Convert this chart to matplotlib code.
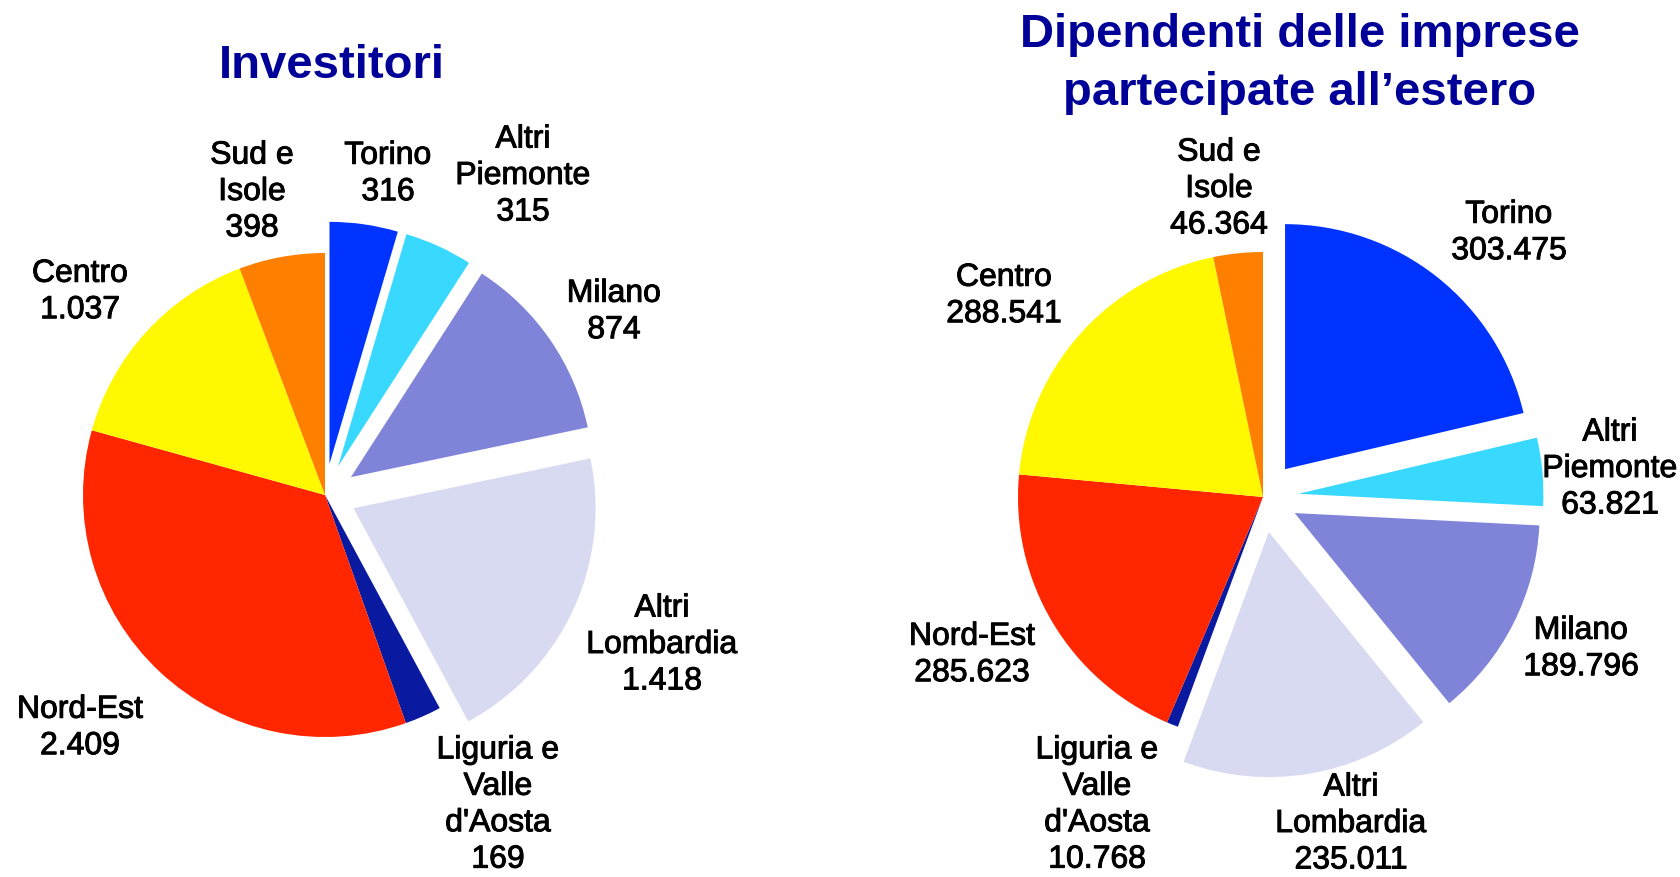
import matplotlib
matplotlib.use('Agg')
import matplotlib.pyplot as plt
import matplotlib.patheffects as pe

# dati
regioni = ['Torino', 'Altri\nPiemonte', 'Milano', 'Altri\nLombardia',
           "Liguria e\nValle\nd'Aosta", 'Nord-Est', 'Centro', 'Sud e\nIsole']
investitori = [316, 315, 874, 1418, 169, 2409, 1037, 398]
dipendenti = [303475, 63821, 189796, 235011, 10768, 285623, 288541, 46364]
esploso = [1, 1, 1, 1, 0, 0, 0, 0]

colori = ['#0033FF', '#38D8FF', '#8084D8', '#D8DAF2', '#0A1AA0',
          '#FF2600', '#FFF800', '#FF8000']

W, H = 1681, 878

def fmt(v):
    return '{:,}'.format(v).replace(',', '.')

# posizioni delle etichette (pixel, dall'alto)
pos_sx = [(388, 175), (523, 177), (614, 313), (662, 646),
          (498, 806), (80, 729), (80, 293), (252, 193)]
pos_dx = [(1509, 234), (1610, 470), (1581, 650), (1351, 825),
          (1097, 806), (972, 656), (1004, 297), (1219, 190)]

plt.rcParams['font.family'] = ['Liberation Sans', 'DejaVu Sans']

fig = plt.figure(figsize=(W / 100, H / 100), dpi=100)
ax = fig.add_axes([0, 0, 1, 1])

def torta(valori, centro, raggio, posizioni, fatt):
    # explode in matplotlib e' in unita' dati, quindi moltiplico per il raggio
    ax.pie(valori, colors=colori, startangle=90, counterclock=False,
           center=(centro[0], H - centro[1]), radius=raggio,
           explode=[e * fatt * raggio for e in esploso],
           wedgeprops=dict(linewidth=0), frame=True)
    for nome, v, (x, y) in zip(regioni, valori, posizioni):
        ax.text(x, H - y, nome + '\n' + fmt(v), ha='center', va='center',
                fontsize=23, color='black', linespacing=1.28,
                path_effects=[pe.withStroke(linewidth=0.7, foreground='black')])

torta(investitori, (325, 496), 242, pos_sx, 0.13)
torta(dipendenti, (1263, 498), 245, pos_dx, 0.145)
ax.set_xlim(0, W)
ax.set_ylim(0, H)
ax.set_aspect('equal')
ax.axis('off')

blu = '#000099'
ax.text(332, H - 66, 'Investitori', ha='center', va='center',
        fontsize=34, fontweight='bold', color=blu)
ax.text(1300, H - 64, 'Dipendenti delle imprese\npartecipate all\u2019estero',
        ha='center', va='center', fontsize=34, fontweight='bold', color=blu,
        linespacing=1.4)

fig.savefig('out.png', dpi=100)
